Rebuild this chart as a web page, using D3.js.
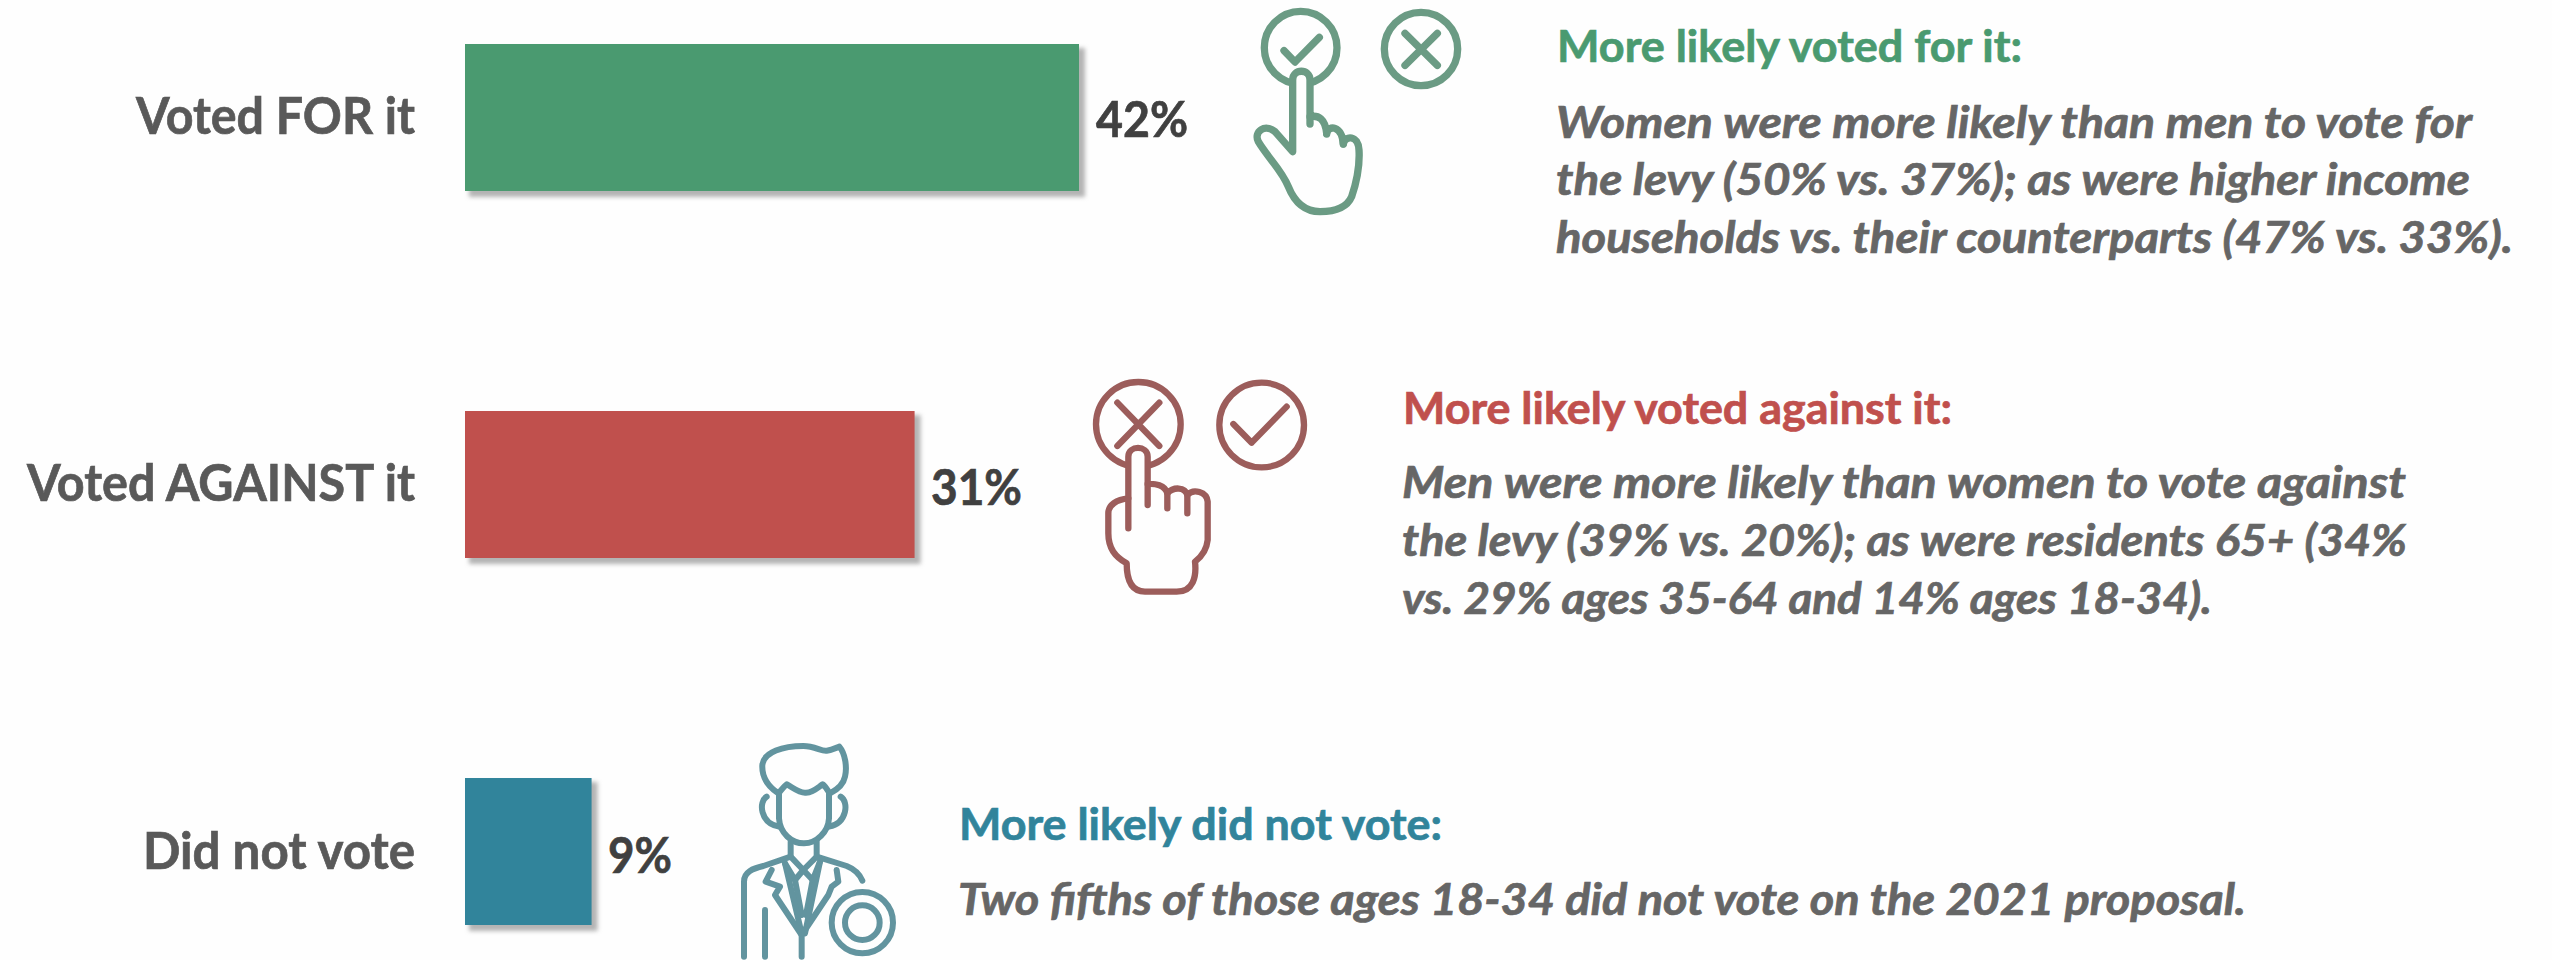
<!DOCTYPE html>
<html>
<head>
<meta charset="utf-8">
<script src="https://cdnjs.cloudflare.com/ajax/libs/d3/7.8.5/d3.min.js"></script>
<style>
  html, body { margin: 0; padding: 0; background: #fefefe; overflow: hidden; }
  text { font-family: Lato, "Open Sans", sans-serif; font-weight: 700; }
</style>
</head>
<body>
<script>
// Chart data
var categories = ["Voted FOR it", "Voted AGAINST it", "Did not vote"];
var barValues = [42.2, 30.9, 8.7];
var valueLabels = ["42%", "31%", "9%"];
var barColors = ["#4a9a70", "#c0504d", "#31849b"];
var iconColors = ["#6b9b84", "#9c5d5b", "#62949f"];
var headers = ["More likely voted for it:", "More likely voted against it:", "More likely did not vote:"];
var bodyLines = [
  ["Women were more likely than men to vote for",
   "the levy (50% vs. 37%); as were higher income",
   "households vs. their counterparts (47% vs. 33%)."],
  ["Men were more likely than women to vote against",
   "the levy (39% vs. 20%); as were residents 65+ (34%",
   "vs. 29% ages 35-64 and 14% ages 18-34)."],
  ["Two fifths of those ages 18-34 did not vote on the 2021 proposal."]
];

// Layout
var width = 2552,
    height = 960;
var labelLayout = [{y: 134, x0: 136}, {y: 501, x0: 27}, {y: 869, x0: 143}];
var valueLayout = [{x: 1096, y: 137, w: 92}, {x: 931, y: 505, w: 91}, {x: 608, y: 873, w: 64}];
var headerLayout = [{x: 1557, y: 62, w: 465}, {x: 1403, y: 424, w: 549}, {x: 959, y: 840, w: 483}];
var bodyLayout = [
  [{x: 1556, y: 138, w: 916}, {x: 1556, y: 195, w: 914}, {x: 1556, y: 253, w: 957}],
  [{x: 1402, y: 498, w: 1004}, {x: 1402, y: 556, w: 1005}, {x: 1402, y: 614, w: 810}],
  [{x: 958, y: 915, w: 1288}]
];

var x = d3.scaleLinear().domain([0, 42.2]).range([465, 1079]);
var y = d3.scaleBand().domain(categories).range([44, 925]).paddingInner(0.5995);

var svg = d3.select("body")
    .append("svg")
    .attr("width", width)
    .attr("height", height)
    .style("display", "block");

svg.append("rect").attr("width", width).attr("height", height).attr("fill", "#fefefe");

var defs = svg.append("defs");
defs.append("filter")
    .attr("id", "soft")
    .attr("x", "-10%").attr("y", "-10%").attr("width", "120%").attr("height", "120%")
  .append("feGaussianBlur")
    .attr("stdDeviation", 2);

// Bar shadows, then bars
svg.selectAll("rect.shadow")
    .data(categories)
  .enter().append("rect")
    .attr("class", "shadow")
    .attr("x", x(0) + 4)
    .attr("y", function(d) { return y(d) + 4; })
    .attr("width", function(d, i) { return x(barValues[i]) - x(0) + 2; })
    .attr("height", y.bandwidth() + 2)
    .attr("fill", "#b4b4b4")
    .attr("filter", "url(#soft)");

svg.selectAll("rect.bar")
    .data(categories)
  .enter().append("rect")
    .attr("class", "bar")
    .attr("x", x(0))
    .attr("y", function(d) { return y(d); })
    .attr("width", function(d, i) { return x(barValues[i]) - x(0); })
    .attr("height", y.bandwidth())
    .attr("fill", function(d, i) { return barColors[i]; });

// Text helper: squeeze Lato to the measured width of the original face
function put(str, p, size, color, italic) {
  svg.append("text")
      .attr("x", p.x)
      .attr("y", p.y)
      .attr("font-size", size)
      .attr("fill", color)
      .attr("stroke", color)
      .attr("stroke-width", 0.7)
      .attr("font-style", italic ? "italic" : "normal")
      .attr("textLength", p.w)
      .attr("lengthAdjust", "spacingAndGlyphs")
      .text(str);
}

categories.forEach(function(c, i) {
  put(c, {x: labelLayout[i].x0, y: labelLayout[i].y, w: 415 - labelLayout[i].x0}, 52, "#595959");
  put(valueLabels[i], valueLayout[i], 50, "#404040");
  put(headers[i], headerLayout[i], 43, barColors[i]);
  bodyLines[i].forEach(function(line, j) {
    put(line, bodyLayout[i][j], 43, "#666666", true);
  });
});

// Icons, traced in 3x crop units
function icon(ox, oy, color, sw) {
  return svg.append("g")
      .attr("transform", "translate(" + ox + "," + oy + ") scale(" + (1 / 3) + ")")
      .attr("fill", "none")
      .attr("stroke", color)
      .attr("stroke-width", sw)
      .attr("stroke-linecap", "round")
      .attr("stroke-linejoin", "round");
}
function circle(g, cx, cy, r) {
  g.append("circle").attr("cx", cx).attr("cy", cy).attr("r", r);
}
function draw(g, d, fill) {
  g.append("path").attr("d", d).attr("fill", fill || "none");
}

// Green check hand
var g1 = icon(1180, 0, iconColors[0], 22);
circle(g1, 362, 143, 109);
draw(g1, "M312,152 L345,186 L418,112");
circle(g1, 723, 147, 110);
draw(g1, "M675,100 L772,196 M772,100 L675,196");
draw(g1, "M338,455 L338,240 C338,205 390,205 390,240 L390,350 C415,345 435,355 440,400 " +
    "C445,375 485,375 490,432 C495,405 535,405 537,450 C540,500 530,545 515,590 " +
    "C500,625 465,635 420,635 C375,635 345,610 325,560 C305,510 265,475 235,425 " +
    "C220,395 255,370 285,395 Z", "#fefefe");
draw(g1, "M390,350 L390,372 M440,385 L440,402 M490,415 L490,432");

// Red cross hand
var g2 = icon(1060, 360, iconColors[1], 19);
circle(g2, 235, 193, 127);
draw(g2, "M172,128 L298,258 M298,128 L172,258");
circle(g2, 605, 195, 127);
draw(g2, "M520,192 L575,248 L680,140");
draw(g2, "M205,415 L205,290 C205,255 263,255 263,290 L263,372 C285,370 315,375 322,400 " +
    "C340,380 375,380 382,405 C400,385 440,395 443,425 L443,540 C440,570 425,590 405,605 " +
    "C410,650 400,695 350,695 L255,695 C215,695 200,660 200,610 C165,590 145,565 145,520 " +
    "L145,460 C145,435 170,418 205,415 Z", "#fefefe");
draw(g2, "M205,415 L205,505 M263,372 L263,435 M322,400 L322,445 M382,405 L382,460");

// Teal person
var g3 = icon(700, 730, iconColors[2], 18);
draw(g3, "M235,190 C205,170 185,140 187,105 C192,65 250,48 310,48 C345,48 365,65 380,62 " +
    "C395,60 405,55 418,50 C435,70 442,110 435,140 C430,165 410,180 390,190 " +
    "C380,180 375,165 368,163 C350,175 335,190 315,188 C295,188 275,170 260,163 C250,170 245,180 235,190 Z");
draw(g3, "M237,190 L237,265 C240,310 275,340 312,340 C350,340 385,305 387,265 L387,190");
draw(g3, "M200,200 C175,215 180,280 237,290 M422,200 C447,215 442,280 387,290");
draw(g3, "M272,335 L272,380 L310,420 L350,380 L350,335");
draw(g3, "M255,400 L285,450 L310,420 L338,450 L360,395");
draw(g3, "M285,450 L305,555 M338,450 L318,555");
draw(g3, "M255,400 L305,610 M360,395 L315,610");
draw(g3, "M132,680 L132,455 C132,425 160,415 190,408 L272,380 M350,380 L440,408 C465,418 478,430 487,452");
draw(g3, "M215,420 L197,455 L240,470 L225,495 L305,615 L385,495 L395,470 L415,455 L410,420");
draw(g3, "M305,615 L305,680 M195,540 L195,680");
circle(g3, 487, 578, 92);
circle(g3, 487, 578, 52);
</script>
</body>
</html>
